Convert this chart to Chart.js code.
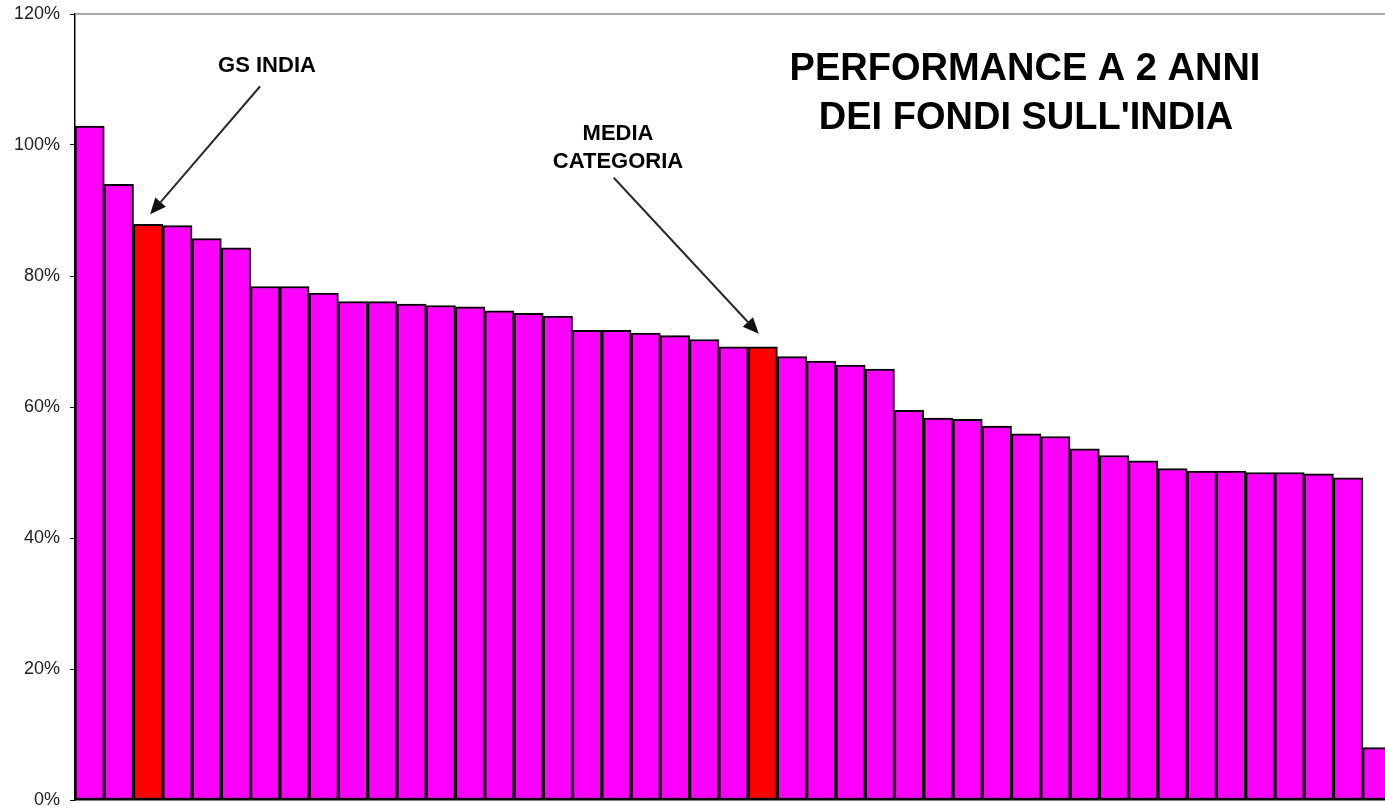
<!DOCTYPE html>
<html>
<head>
<meta charset="utf-8">
<script src="https://cdn.jsdelivr.net/npm/chart.js@4"></script>
<style>
  html, body { margin: 0; padding: 0; background: #fff; overflow: hidden; }
  #wrap { position: absolute; left: 0; top: 0; width: 1400px; height: 808px; }
</style>
</head>
<body>
<div id="wrap"><canvas id="perf" width="1400" height="808"></canvas></div>
<script>
// performance a 2 anni, fondi india (valori in %)
const funds = [];
for (let i = 1; i <= 45; i++) funds.push("Fondo " + i);
const perf = [102.9, 94.0, 87.9, 87.7, 85.7, 84.3, 78.4, 78.4, 77.4, 76.1,
              76.1, 75.7, 75.5, 75.3, 74.7, 74.3, 73.9, 71.7, 71.7, 71.3,
              70.9, 70.3, 69.2, 69.2, 67.7, 67.0, 66.4, 65.8, 59.5, 58.3,
              58.1, 57.1, 55.9, 55.5, 53.6, 52.6, 51.8, 50.6, 50.2, 50.2,
              50.0, 50.0, 49.8, 49.2, 8.0];
const gsIndia = 2;   // indice barra GS India
const media = 23;    // indice barra media categoria
const yTicks = [0, 20, 40, 60, 80, 100, 120];

const colors = perf.map((v, i) => (i === gsIndia || i === media) ? "#ff0000" : "#ff00ff");

// testo + frecce
const notes = {
  id: "notes",
  afterDraw(chart) {
    const ctx = chart.ctx;
    const xs = chart.scales.x, ys = chart.scales.y;
    const area = chart.chartArea;

    // bordo superiore grigio dell'area del grafico
    ctx.save();
    ctx.strokeStyle = "#8c8c8c";
    ctx.lineWidth = 1.5;
    ctx.beginPath();
    ctx.moveTo(area.left, area.top);
    ctx.lineTo(area.right, area.top);
    ctx.stroke();

    function arrow(x1, y1, x2, y2) {
      const ang = Math.atan2(y2 - y1, x2 - x1);
      const hl = 16, hw = 7;
      const bx = x2 - hl * Math.cos(ang), by = y2 - hl * Math.sin(ang);
      ctx.strokeStyle = "#2a2a2a";
      ctx.lineWidth = 2;
      ctx.beginPath();
      ctx.moveTo(x1, y1);
      ctx.lineTo(bx, by);
      ctx.stroke();
      ctx.fillStyle = "#111";
      ctx.beginPath();
      ctx.moveTo(x2, y2);
      ctx.lineTo(bx + hw * Math.sin(ang), by - hw * Math.cos(ang));
      ctx.lineTo(bx - hw * Math.sin(ang), by + hw * Math.cos(ang));
      ctx.closePath();
      ctx.fill();
    }

    // GS INDIA
    let tx = xs.getPixelForValue(gsIndia) + 2, ty = ys.getPixelForValue(perf[gsIndia]) - 10;
    arrow(tx + 110, ty - 128, tx, ty);
    // MEDIA CATEGORIA
    tx = xs.getPixelForValue(media) - 4; ty = ys.getPixelForValue(perf[media]) - 13;
    arrow(tx - 145, ty - 156, tx, ty);

    ctx.fillStyle = "#000";
    ctx.textAlign = "center";
    ctx.textBaseline = "middle";
    ctx.font = "bold 22px 'Liberation Sans', Arial, sans-serif";
    ctx.fillText("GS INDIA", 267, 66);
    ctx.fillText("MEDIA", 618, 134);
    ctx.fillText("CATEGORIA", 618, 162);

    ctx.font = "bold 38px 'Liberation Sans', Arial, sans-serif";
    ctx.fillText("PERFORMANCE A 2 ANNI", 1025, 70);
    ctx.fillText("DEI FONDI SULL'INDIA", 1026, 119);
    ctx.restore();
  }
};

new Chart("perf", {
  type: "bar",
  data: {
    labels: funds,
    datasets: [{
      data: perf,
      backgroundColor: colors,
      borderColor: "#000",
      borderWidth: 2,
      borderSkipped: false,
      barPercentage: 1,
      categoryPercentage: 1
    }]
  },
  options: {
    responsive: false,
    animation: false,
    layout: { padding: { top: 14, bottom: 8, left: 0, right: 8 } },
    plugins: { legend: { display: false }, tooltip: { enabled: false } },
    scales: {
      x: {
        ticks: { display: false },
        grid: { display: true, drawOnChartArea: false, drawTicks: false },
        border: { color: "#000", width: 1.5 },
        afterFit(s) { s.height = 0; }
      },
      y: {
        min: 0,
        max: 120,
        afterBuildTicks(s) { s.ticks = yTicks.map(v => ({ value: v })); },
        ticks: {
          color: "#222",
          padding: 10,
          font: { family: "'Liberation Sans', Arial, sans-serif", size: 18 },
          callback: v => v + "%"
        },
        grid: { drawOnChartArea: false, drawTicks: true, tickLength: 5, color: "#000" },
        border: { color: "#000", width: 1.5 },
        afterFit(s) { s.width = 75; s.paddingTop = 0; s.paddingBottom = 0; }
      }
    }
  },
  plugins: [notes]
});
</script>
</body>
</html>
